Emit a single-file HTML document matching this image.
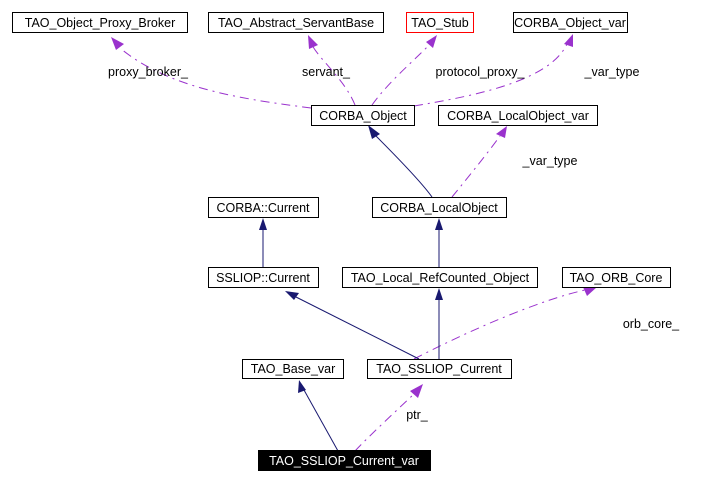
<!DOCTYPE html>
<html><head><meta charset="utf-8"><style>
html,body{margin:0;padding:0;background:#fff;width:701px;height:483px;overflow:hidden}
text{font-family:"Liberation Sans",Arial,sans-serif;font-size:12.5px;fill:#000}
</style></head><body>
<svg width="701" height="483" viewBox="0 0 701 483" xmlns="http://www.w3.org/2000/svg">
<g fill="none" stroke-width="1">
<g stroke="#9a32cd" stroke-dasharray="9,5,2,5">
<path d="M311,108 C250,100 170,90 120,48"/>
<path d="M355,105 C345,80 320,60 312,45"/>
<path d="M372,105 C390,80 415,60 430,44"/>
<path d="M414,106 C480,95 550,80 567,44"/>
<path d="M452,197 C470,175 490,150 500,136"/>
<path d="M414,359 C470,330 540,300 585,290"/>
<path d="M355,451 C370,435 395,412 414,394"/>
</g>
<g stroke="#191970">
<path d="M432,197 C420,180 390,150 375,135"/>
<path d="M263,267 L263,228"/>
<path d="M439,267 L439,228"/>
<path d="M439,359 L439,298"/>
<path d="M419,359 L296,297"/>
<path d="M338,451 L304,390"/>
</g>
</g>
<g fill="#9a32cd">
<polygon points="111,37 124,44 116,50"/>
<polygon points="308,35 318,45 309,49"/>
<polygon points="437,35 433,48 426,42"/>
<polygon points="573,34 573,47 564,44"/>
<polygon points="507,126 505,138 496,134"/>
<polygon points="597,287 587,296 583,287"/>
<polygon points="423,384 418,398 410,391"/>
</g>
<g fill="#191970">
<polygon points="368,125 380,134 372,139"/>
<polygon points="263,218 259,230 267,230"/>
<polygon points="439,218 435,230 443,230"/>
<polygon points="439,288 435,300 443,300"/>
<polygon points="285,291 299,293 294,300"/>
<polygon points="299,380 306,390 298,393"/>
</g>
<g stroke="#000" fill="#fff">
<rect x="12.5" y="12.5" width="175" height="20"/>
<rect x="208.5" y="12.5" width="175" height="20"/>
<rect x="406.5" y="12.5" width="67" height="20" stroke="#ff0000"/>
<rect x="513.5" y="12.5" width="114" height="20"/>
<rect x="311.5" y="105.5" width="103" height="20"/>
<rect x="438.5" y="105.5" width="159" height="20"/>
<rect x="208.5" y="197.5" width="110" height="20"/>
<rect x="372.5" y="197.5" width="134" height="20"/>
<rect x="208.5" y="267.5" width="110" height="20"/>
<rect x="342.5" y="267.5" width="195" height="20"/>
<rect x="562.5" y="267.5" width="108" height="20"/>
<rect x="242.5" y="359.5" width="101" height="19"/>
<rect x="367.5" y="359.5" width="144" height="19"/>
<rect x="258.5" y="450.5" width="172" height="20" fill="#000"/>
</g>
<g text-anchor="middle">
<text x="100" y="27">TAO_Object_Proxy_Broker</text>
<text x="296" y="27">TAO_Abstract_ServantBase</text>
<text x="440" y="27">TAO_Stub</text>
<text x="570" y="27">CORBA_Object_var</text>
<text x="363" y="120">CORBA_Object</text>
<text x="518" y="120">CORBA_LocalObject_var</text>
<text x="263" y="212">CORBA::Current</text>
<text x="439" y="212">CORBA_LocalObject</text>
<text x="263" y="282">SSLIOP::Current</text>
<text x="440" y="282">TAO_Local_RefCounted_Object</text>
<text x="616" y="282">TAO_ORB_Core</text>
<text x="293" y="373">TAO_Base_var</text>
<text x="439" y="373">TAO_SSLIOP_Current</text>
<text x="344" y="465" style="fill:#fff">TAO_SSLIOP_Current_var</text>
<text x="148" y="76">proxy_broker_</text>
<text x="326" y="76">servant_</text>
<text x="480" y="76">protocol_proxy_</text>
<text x="612" y="76">_var_type</text>
<text x="550" y="165">_var_type</text>
<text x="651" y="328">orb_core_</text>
<text x="417" y="419">ptr_</text>
</g>
</svg>
</body></html>
